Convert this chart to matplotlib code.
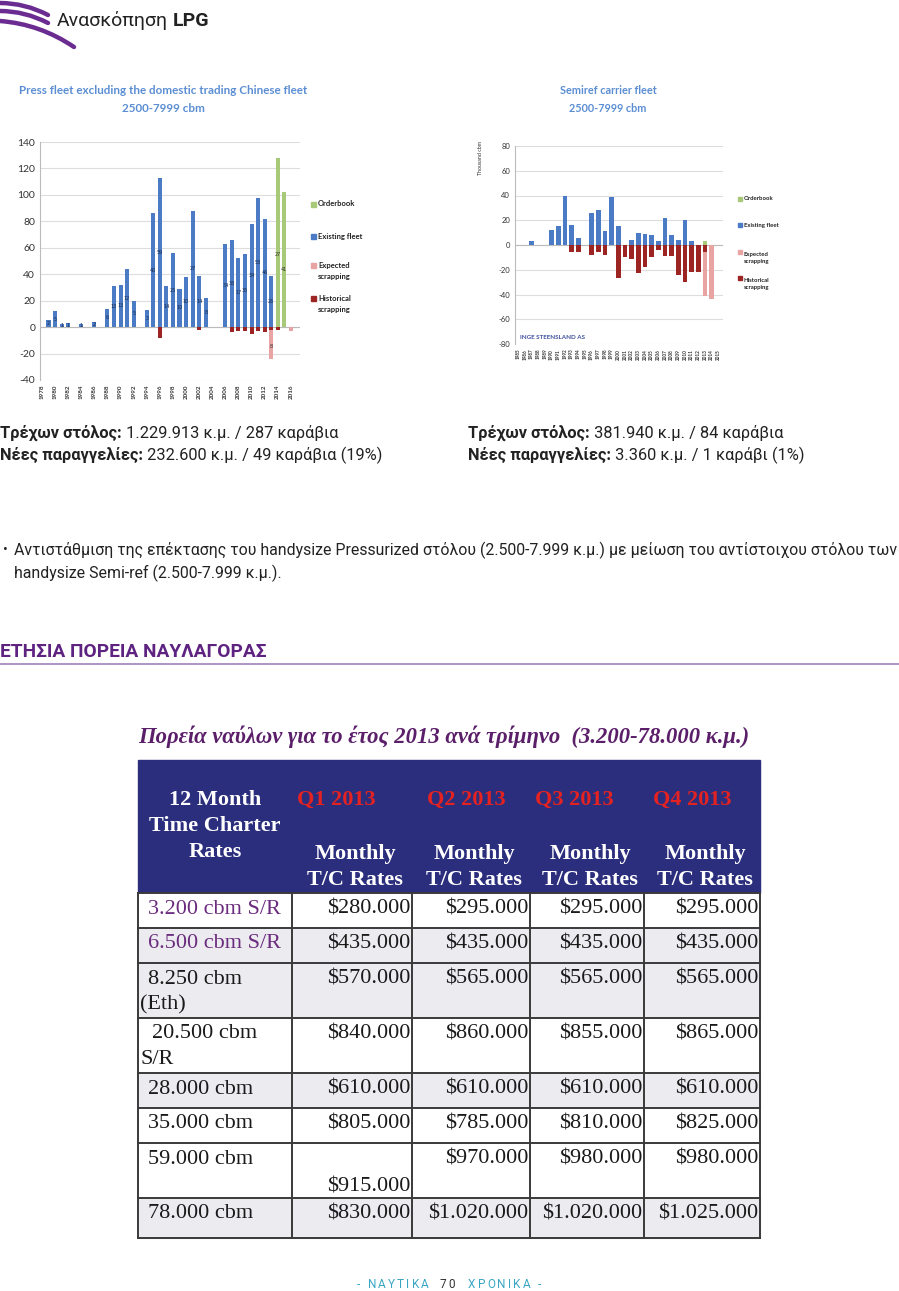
import numpy as np
import matplotlib
matplotlib.use("Agg")
import matplotlib.pyplot as plt
from matplotlib.patches import Rectangle
from matplotlib.path import Path
from matplotlib.patches import PathPatch

W, H = 899, 1291

# ---- left chart: press fleet (thousand cbm per delivery year)
left_years = list(range(1978, 2017))
left_existing = {1979: 5, 1980: 12, 1981: 2, 1982: 3, 1984: 2, 1986: 4, 1988: 14, 1989: 31,
                 1990: 32, 1991: 44, 1992: 20, 1994: 13, 1995: 86, 1996: 113, 1997: 31,
                 1998: 56, 1999: 29, 2000: 38, 2001: 88, 2002: 39, 2003: 22, 2006: 63,
                 2007: 66, 2008: 52, 2009: 55, 2010: 78, 2011: 98, 2012: 82, 2013: 39}
left_orderbook = {2014: 128, 2015: 102}
left_historical = {1996: -8, 2002: -2, 2007: -4, 2008: -3, 2009: -3, 2010: -5, 2011: -3,
                   2012: -4, 2013: -2, 2014: -2}
left_expected = {2013: -22, 2016: -3}
left_ship_counts = {1979: "2", 1980: "5", 1981: "1", 1982: "1", 1984: "1", 1986: "2", 1988: "6",
                    1989: "13", 1990: "13", 1991: "12", 1992: "5", 1994: "3", 1995: "40",
                    1996: "59", 1997: "14", 1998: "25", 1999: "10", 2000: "10", 2001: "27",
                    2002: "14", 2003: "8", 2006: "34", 2007: "33", 2008: "17", 2009: "35",
                    2010: "34", 2011: "53", 2012: "46", 2013: "26"}
left_order_counts = {2014: "27", 2015: "41"}

# ---- right chart: semiref fleet
right_years = list(range(1985, 2016))
right_existing = {1987: 3, 1990: 12, 1991: 15, 1992: 40, 1993: 16, 1994: 6, 1996: 26, 1997: 28,
                  1998: 11, 1999: 39, 2000: 15, 2002: 4, 2003: 10, 2004: 9, 2005: 8, 2006: 3,
                  2007: 22, 2008: 8, 2009: 4, 2010: 20, 2011: 3}
right_historical = {1993: -6, 1994: -6, 1996: -8, 1997: -6, 1998: -8, 2000: -27, 2001: -10,
                    2002: -11, 2003: -23, 2004: -18, 2005: -10, 2006: -4, 2007: -9, 2008: -9,
                    2009: -24, 2010: -30, 2011: -22, 2012: -22, 2013: -6}
right_expected = {2013: -35, 2014: -44}
right_orderbook = {2013: 3}

legend_labels = ["Orderbook", "Existing fleet", "Expected\nscrapping", "Historical\nscrapping"]

# ---- table
table_title = "Πορεία ναύλων για το έτος 2013 ανά τρίμηνο  (3.200-78.000 κ.μ.)"
quarters = ["Q1 2013", "Q2 2013", "Q3 2013", "Q4 2013"]
row_names = [["3.200 cbm S/R"], ["6.500 cbm S/R"], ["8.250 cbm", "(Eth)"], ["20.500 cbm", "S/R"],
             ["28.000 cbm"], ["35.000 cbm"], ["59.000 cbm"], ["78.000 cbm"]]
rates = [["$280.000", "$295.000", "$295.000", "$295.000"],
         ["$435.000", "$435.000", "$435.000", "$435.000"],
         ["$570.000", "$565.000", "$565.000", "$565.000"],
         ["$840.000", "$860.000", "$855.000", "$865.000"],
         ["$610.000", "$610.000", "$610.000", "$610.000"],
         ["$805.000", "$785.000", "$810.000", "$825.000"],
         ["$915.000", "$970.000", "$980.000", "$980.000"],
         ["$830.000", "$1.020.000", "$1.020.000", "$1.025.000"]]

BLUE = "#4a7bc4"
DARKRED = "#9c2524"
PINK = "#e8a3a3"
GREEN = "#a9c97a"
PURPLE = "#5e2381"
SANS = ["Roboto", "DejaVu Sans"]
CHART = ["Lato", "DejaVu Sans"]
SERIF = ["Liberation Serif", "DejaVu Serif"]

fig = plt.figure(figsize=(W / 100, H / 100), dpi=100)
bg = fig.add_axes([0, 0, 1, 1])
bg.set_xlim(0, W)
bg.set_ylim(H, 0)
bg.axis("off")


def rect(l, t, r, b):
    return [l / W, 1 - b / H, (r - l) / W, (b - t) / H]


def vals(d, years):
    return np.array([d.get(y, 0) for y in years], dtype=float)


def text_width(t):
    fig.canvas.draw()
    return t.get_window_extent().width


def spaced(x0, y0, s, track, **kw):
    # draw a string letter by letter with extra tracking, return end x
    x = x0
    for ch in s:
        t = bg.text(x, y0, ch, ha="left", va="center", **kw)
        x += text_width(t) + track
    return x - track


# ---- header logo
for (x0, y0, x1, y1, cx, cy) in [(0, 3, 48, 15, 25, 3), (0, 11, 48, 23, 25, 11), (0, 21, 74, 47, 40, 24)]:
    p = Path([(x0, y0), (cx, cy), (x1, y1)], [Path.MOVETO, Path.CURVE3, Path.CURVE3])
    bg.add_patch(PathPatch(p, fill=False, lw=3.2, color="#6a2c91", capstyle="round"))
bg.text(57, 21, "Ανασκόπηση", fontsize=14, family=SANS, color="#222222", va="center")
bg.text(173, 21, "LPG", fontsize=14, family=SANS, weight="bold", color="#222222", va="center")


def draw_chart(ax, years, existing, orderbook, historical, expected, width):
    e = vals(existing, years)
    o = vals(orderbook, years)
    h = vals(historical, years)
    x = vals(expected, years)
    ax.bar(years, e, width, color=BLUE, zorder=3)
    ax.bar(years, o, width, bottom=e, color=GREEN, zorder=3)
    ax.bar(years, h, width, color=DARKRED, zorder=3)
    ax.bar(years, x, width, bottom=h, color=PINK, zorder=3)
    ax.grid(axis="y", color="#dddddd", lw=0.8, zorder=0)
    ax.axhline(0, color="#bbbbbb", lw=0.8, zorder=2)
    for s in ["top", "right", "bottom"]:
        ax.spines[s].set_visible(False)
    ax.spines["left"].set_color("#bbbbbb")
    ax.tick_params(axis="both", length=0, colors="#333333")


# ---- left chart
axl = fig.add_axes(rect(40, 142, 300, 380))
draw_chart(axl, left_years, left_existing, left_orderbook, left_historical, left_expected, 0.62)
axl.set_xlim(1977.7, 2017.4)
axl.set_ylim(-40, 140)
axl.set_yticks(range(-40, 141, 20))
axl.set_yticklabels([str(v) for v in range(-40, 141, 20)], fontsize=7.5, family=CHART)
axl.set_xticks(left_years[::2])
axl.set_xticklabels([str(y) for y in left_years[::2]], rotation=90, fontsize=4.5,
                    weight="bold", family=CHART)
for yr, lab in left_ship_counts.items():
    axl.text(yr, left_existing[yr] / 2, lab, fontsize=3.5, ha="center", va="center",
             color="#1a2a4a", zorder=4)
for yr, lab in left_order_counts.items():
    axl.text(yr, left_orderbook[yr] * 0.43, lab, fontsize=3.5, ha="center", va="center",
             color="#333333", zorder=4)
axl.text(2013, -15, "8", fontsize=3.5, ha="center", va="center", color="#333333", zorder=4)
bg.text(163, 90, "Press fleet excluding the domestic trading Chinese fleet", fontsize=8.4,
        family=CHART, weight="bold", color="#5b8ed3", ha="center", va="center")
bg.text(163, 109, "2500-7999 cbm", fontsize=8.4, family=CHART, weight="bold",
        color="#5b8ed3", ha="center", va="center")
for lab, col, yy in zip(legend_labels, [GREEN, BLUE, PINK, DARKRED], [204, 236, 271, 304]):
    first = yy - 6 if "\n" in lab else yy
    bg.add_patch(Rectangle((311, first - 2.5), 5, 5, color=col))
    bg.text(318, yy, lab, fontsize=5.5, family=CHART, weight="bold", color="#222222",
            va="center", linespacing=1.6)

# ---- right chart
axr = fig.add_axes(rect(515, 146, 723, 344))
draw_chart(axr, right_years, right_existing, right_orderbook, right_historical, right_expected, 0.7)
axr.set_xlim(1984.5, 2015.7)
axr.set_ylim(-80, 80)
axr.set_yticks(range(-80, 81, 20))
axr.set_yticklabels([str(v) for v in range(-80, 81, 20)], fontsize=5.5, family=CHART)
axr.set_xticks(right_years)
axr.set_xticklabels([str(y) for y in right_years], rotation=90, fontsize=3.3,
                    weight="bold", family=CHART)
axr.text(1985.2, -75, "INGE STEENSLAND AS", fontsize=4.5, weight="bold", family=CHART,
         color="#3d4f9c", va="center")
bg.text(481, 158, "Thousand cbm", rotation=90, fontsize=3.8, family=CHART,
        color="#333333", ha="center", va="center")
bg.text(608, 90, "Semiref carrier fleet", fontsize=7.8, family=CHART, weight="bold",
        color="#5b8ed3", ha="center", va="center")
bg.text(608, 108, "2500-7999 cbm", fontsize=7.8, family=CHART, weight="bold",
        color="#5b8ed3", ha="center", va="center")
for lab, col, yy in zip(legend_labels, [GREEN, BLUE, PINK, DARKRED], [199, 225, 258, 284]):
    first = yy - 6 if "\n" in lab else yy
    bg.add_patch(Rectangle((738, first - 2), 4, 4, color=col))
    bg.text(744, yy, lab, fontsize=4.3, family=CHART, weight="bold", color="#222222",
            va="center", linespacing=1.6)

# ---- fleet summary lines
summary = [(0, 433, "Τρέχων στόλος:", " 1.229.913 κ.μ. / 287 καράβια"),
           (0, 455, "Νέες παραγγελίες:", " 232.600 κ.μ. / 49 καράβια (19%)"),
           (468, 433, "Τρέχων στόλος:", " 381.940 κ.μ. / 84 καράβια"),
           (468, 455, "Νέες παραγγελίες:", " 3.360 κ.μ. / 1 καράβι (1%)")]
for x0, y0, bold, rest in summary:
    t = bg.text(x0, y0, bold, fontsize=11.8, family=SANS, weight="bold", color="#222222",
                va="center")
    bg.text(x0 + text_width(t), y0, rest, fontsize=11.8, family=SANS, color="#222222",
            va="center")

bg.text(3, 550, "•", fontsize=10, family=SANS, color="#222222", va="center")
bg.text(14, 550, "Αντιστάθμιση της επέκτασης του handysize Pressurized στόλου (2.500-7.999 κ.μ.) "
        "με μείωση του αντίστοιχου στόλου των", fontsize=11.45, family=SANS, color="#222222",
        va="center")
bg.text(14, 573, "handysize Semi-ref (2.500-7.999 κ.μ.).", fontsize=11.45, family=SANS,
        color="#222222", va="center")

bg.text(0, 652, "ΕΤΗΣΙΑ ΠΟΡΕΙΑ ΝΑΥΛΑΓΟΡΑΣ", fontsize=13.8, family=SANS, weight="bold",
        color=PURPLE, va="center")
bg.plot([0, W], [663.5, 663.5], color="#a88bc2", lw=1.3)

# ---- table
bg.text(444, 737, table_title, fontsize=16.3, family=SERIF, weight="bold", style="italic",
        color="#5b1f6a", ha="center", va="center")
cols = [138, 292, 412, 530, 644, 760]
rows = [893, 928, 963, 1018, 1073, 1108, 1143, 1198, 1238]
row_bg = ["#ffffff", "#ebebf0", "#ebebf0", "#ffffff", "#ebebf0", "#ffffff", "#ffffff", "#ebebf0"]
bg.add_patch(Rectangle((cols[0], 760), cols[-1] - cols[0], rows[0] - 760, color="#2b2d7d"))
for i in range(len(row_names)):
    bg.add_patch(Rectangle((cols[0], rows[i]), cols[-1] - cols[0], rows[i + 1] - rows[i],
                           color=row_bg[i]))
for yv in rows:
    bg.plot([cols[0], cols[-1]], [yv, yv], color="#3a3a3a", lw=1.4)
for xv in cols:
    bg.plot([xv, xv], [rows[0], rows[-1]], color="#3a3a3a", lw=1.4)

hdr = dict(family=SERIF, weight="bold", fontsize=16, ha="center", va="center")
for k, line in enumerate(["12 Month", "Time Charter", "Rates"]):
    bg.text(215, 800 + 26 * k, line, color="white", **hdr)
for qx, q in zip([336, 466, 574, 692], quarters):
    bg.text(qx, 800, q, color="#e32222", **hdr)
for j in range(4):
    cx = (cols[j + 2] + cols[j + 1]) / 2 + 3
    bg.text(cx, 854, "Monthly", color="white", **hdr)
    bg.text(cx, 880, "T/C Rates", color="white", **hdr)

for i, names in enumerate(row_names):
    col = "#6b2b7e" if i < 2 else "#1a1a1a"
    ty = rows[i] + 16
    for k, nm in enumerate(names):
        nx = 148 if k == 0 else 140
        if i == 3 and k == 0:
            nx = 152
        bg.text(nx, ty + 26 * k, nm, family=SERIF, fontsize=16, color=col, va="center")
    for j in range(4):
        vy = ty
        if i == 6 and j == 0:
            vy = rows[i] + 44
        bg.text(cols[j + 2] - 2, vy, rates[i][j], family=SERIF, fontsize=16,
                color="#1a1a1a", ha="right", va="center")

# ---- footer
foot = dict(fontsize=8.5, family=SANS, color="#3aa6c4")
spaced(357, 1285, "- ΝΑΥΤΙΚΑ", 2.2, **foot)
spaced(440, 1285, "70", 2.2, fontsize=8.5, family=SANS, color="#333333")
spaced(468, 1285, "ΧΡΟΝΙΚΑ -", 2.2, **foot)

fig.savefig("out.png", dpi=100)
